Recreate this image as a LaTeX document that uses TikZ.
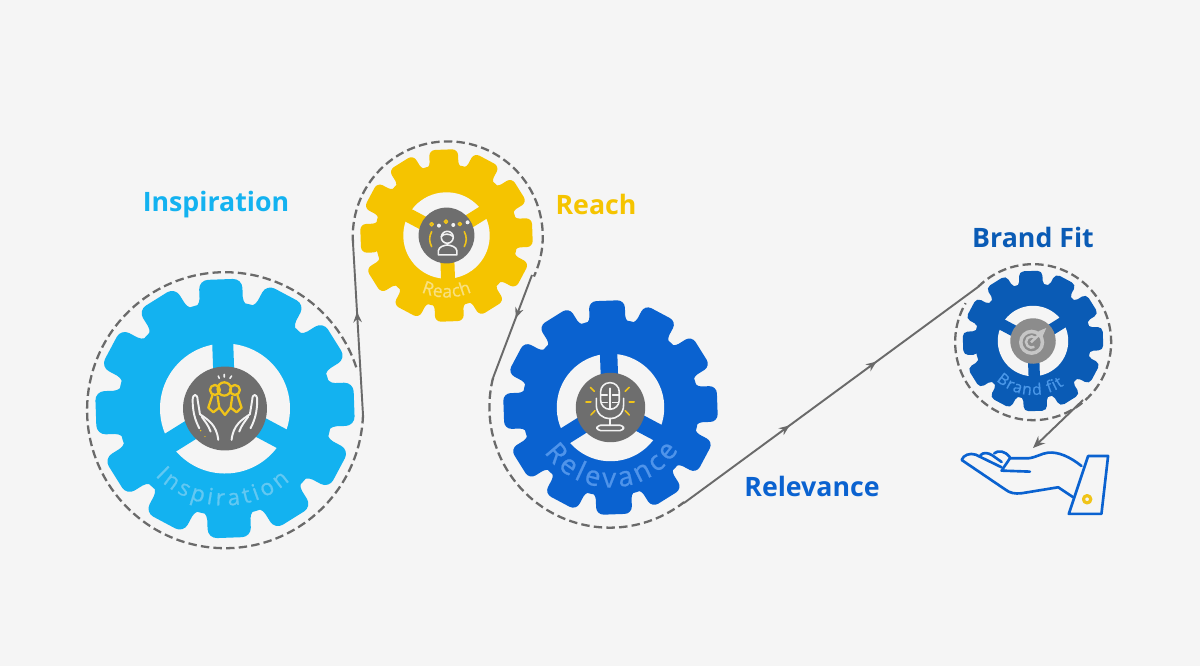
\documentclass[tikz,border=0pt]{standalone}
\usepackage{fontspec}
\setmainfont{Open Sans}
\newfontfamily\gearfont[RawFeature={embolden=0.8}]{Open Sans}
\usetikzlibrary{arrows.meta, decorations.markings, decorations.text}

\definecolor{paper}{HTML}{F5F5F5}
\definecolor{inspblue}{HTML}{13B2F0}
\definecolor{inspsoft}{HTML}{62C8F2}
\definecolor{reachyellow}{HTML}{F5C400}
\definecolor{reachsoft}{HTML}{F9E07F}
\definecolor{relblue}{HTML}{0A62D0}
\definecolor{relsoft}{HTML}{4F94EA}
\definecolor{brandblue}{HTML}{0A5BB5}
\definecolor{brandsoft}{HTML}{4A97E8}
\definecolor{hubgray}{HTML}{6E6E6E}
\definecolor{linegray}{HTML}{6A6A6A}
\definecolor{iconyellow}{HTML}{F0C419}

\tikzset{
  pics/gear/.style n args={3}{code={
    \fill[#1, rounded corners=#2] (-12:104) \foreach \a in {0,30,...,330} {
        -- (\a-12:104) -- (\a-9.5:131) -- (\a+9.5:131) -- (\a+12:104)
      } -- cycle;
    \fill[#1] (0,0) circle (107);
    \fill[paper] (0,0) circle (65);
    \foreach \a in {90,210,330}
      \fill[#1, rotate=\a] (0,-10.5) rectangle (68,10.5);
    \fill[#3] (0,0) circle (42);
  }},
  ring/.style={linegray, line width=0.65pt, dash pattern=on 2.4pt off 1.2pt},
  flow/.style={linegray, line width=0.55pt},
  heading/.style={font=\fontsize{7.6}{9}\selectfont\bfseries},
  iconline/.style={white!90!gray, line width=0.45pt, line cap=round, line join=round},
  iconmark/.style={iconyellow, line width=0.45pt, line cap=round, line join=round},
  handline/.style={relblue, line width=0.75pt, line cap=round, line join=round},
}

\begin{document}
\begin{tikzpicture}[x=0.01cm, y=-0.01cm]
  \fill[paper] (0,0) rectangle (1200,666);

  % Gears
  \pic[rotate=2] at (225,408.5) {gear={inspblue}{2.6pt}{hubgray}};
  \pic[scale=0.665, rotate=182] at (446.5,235.5) {gear={reachyellow}{1.7pt}{hubgray}};
  \pic[scale=0.827, rotate=2] at (610.5,407.5) {gear={relblue}{2.1pt}{hubgray}};
  \pic[scale=0.542, rotate=182] at (1033,341) {gear={brandblue}{1.4pt}{gray!90}};

  % Names bent along the gears
  \path[postaction={decorate}, decoration={text along path, text align={fit to path},
      text={|\gearfont\fontsize{6.4}{8}\selectfont\color{inspsoft}|Inspiration}}]
    (225,408.5) ++(136:97) arc[start angle=136, end angle=48, radius=97];
  \path[postaction={decorate}, decoration={text along path, text align={fit to path},
      text={|\gearfont\fontsize{5}{6}\selectfont\color{reachsoft}|Reach}}]
    (446.5,235.5) ++(114:62) arc[start angle=114, end angle=66, radius=62];
  \path[postaction={decorate}, decoration={text along path, text align={fit to path},
      text={|\gearfont\fontsize{7.8}{9}\selectfont\color{relsoft}|Relevance}}]
    (610.5,407.5) ++(146:80) arc[start angle=146, end angle=32, radius=80];
  \path[postaction={decorate}, decoration={text along path, text align={fit to path},
      text={|\gearfont\fontsize{4.5}{6}\selectfont\color{brandsoft}|Brand fit}}]
    (1033,341) ++(133:54) arc[start angle=133, end angle=55, radius=54];

  % Joints of the running line
  \coordinate (inspout) at (363,415);
  \coordinate (reachin) at (353,243);
  \coordinate (reachout) at (532,275);
  \coordinate (relin) at (493,378);
  \coordinate (relout) at (684,503);
  \coordinate (brandin) at (978,287);
  \coordinate (dropstart) at (1083,400);
  \coordinate (dropend) at (1033,448);

  % Dashed rings
  \draw[ring] (inspout) arc[start angle=2, end angle=342, radius=138];
  \draw[ring] (reachin) arc[start angle=176, end angle=385, radius=95];
  \draw[ring] (relin) arc[start angle=194, end angle=52, radius=120.5];
  \draw[ring] (brandin) arc[start angle=225, end angle=570, radius=78];

  % Straight runs
  \draw[flow, postaction={decorate}, decoration={markings,
      mark=at position 0.6 with {\arrow{Stealth[length=3pt, width=2.4pt]}}}] (inspout) -- (reachin);
  \draw[flow, postaction={decorate}, decoration={markings,
      mark=at position 0.42 with {\arrow{Stealth[length=3pt, width=2.4pt]}}}] (reachout) -- (relin);
  \draw[flow, postaction={decorate}, decoration={markings,
      mark=at position 0.36 with {\arrow{Stealth[length=3pt, width=2.4pt]}},
      mark=at position 0.656 with {\arrow{Stealth[length=3pt, width=2.4pt]}}}] (relout) -- (brandin);
  \draw[flow, -{Stealth[length=3.4pt, width=2.8pt]}] (dropstart) -- (dropend);

  % Headings
  \node[heading, text=inspblue] (insphead) at (216,205) {Inspiration};
  \node[heading, text=reachyellow] (reachhead) at (596,204) {Reach};
  \node[heading, text=relblue] (relhead) at (812,486) {Relevance};
  \node[heading, text=brandblue] (brandhead) at (1033,237) {Brand Fit};

  % Hub icon: hands and people
  \begin{scope}[shift={(180,365)}, x=0.00333cm, y=-0.00333cm]
    \foreach \sx in {1,-1} {
      \begin{scope}[shift={(135,0)}, xscale=\sx]
        \draw[iconline, line width=0.55pt] (-77,190) .. controls (-90,165) and (-97,140) .. (-97,105)
          .. controls (-97,85) and (-82,85) .. (-82,105) -- (-75,148)
          .. controls (-50,165) and (-25,180) .. (-20,225);
        \draw[iconline, line width=0.55pt] (-70,155) .. controls (-60,170) and (-50,180) .. (-43,200);
      \end{scope}
    }
    \draw[iconmark, line width=0.65pt] (133,72) circle (20) (105,75) circle (15) (165,75) circle (15);
    \draw[iconmark, line width=0.65pt] (97,92) -- (85,128) -- (100,142) -- (118,128) -- (135,150)
      -- (152,128) -- (170,142) -- (185,128) -- (173,92);
    \draw[iconmark, line width=0.65pt] (113,95) -- (118,128) (157,95) -- (152,128);
    \draw[iconline] (115,33) -- (118,40) (133,28) -- (133,36) (155,33) -- (150,40);
    \fill[iconyellow] (62,197) circle (2.5) (75,215) circle (2);
  \end{scope}

  % Hub icon: person under stars
  \begin{scope}[shift={(415,205)}, x=0.00333cm, y=-0.00333cm]
    \foreach \px/\py in {50/58, 93/50, 135/57}
      \draw[iconmark] (\px,\py) circle (5);
    \foreach \px/\py in {72/62, 115/60, 158/52}
      \fill[white!90!gray] (\px,\py) circle (6);
    \draw[iconmark] (50,80) .. controls (42,95) and (42,110) .. (50,125);
    \draw[iconmark] (148,80) .. controls (156,95) and (156,110) .. (148,125);
    \draw[iconline] (97,97) circle (18);
    \draw[iconline] (79,95) .. controls (85,85) and (105,85) .. (115,95);
    \draw[iconline] (70,150) -- (70,138) .. controls (72,125) and (85,122) .. (97,120)
      .. controls (110,122) and (124,125) .. (126,138) -- (126,150) -- cycle;
  \end{scope}

  % Hub icon: microphone
  \begin{scope}[shift={(572,370)}, x=0.00333cm, y=-0.00333cm]
    \draw[iconline, rounded corners=2.6pt] (86,38) rectangle (142,118);
    \draw[iconline] (114,55) -- (114,118) (88,75) -- (106,75) (88,97) -- (106,97)
      (122,75) -- (140,75) (122,97) -- (140,97);
    \draw[iconline] (73,85) -- (73,105) .. controls (73,160) and (155,160) .. (155,105) -- (155,85);
    \draw[iconline] (114,145) -- (114,166);
    \draw[iconline, rounded corners=1pt] (75,166) rectangle (155,182);
    \draw[iconmark] (55,52) -- (67,64) (172,52) -- (160,64) (42,96) -- (57,96)
      (172,96) -- (187,96) (57,135) -- (69,122) (172,135) -- (160,122);
  \end{scope}

  % Hub icon: target
  \begin{scope}[shift={(1005,314)}, x=0.00333cm, y=-0.00333cm]
    \fill[gray!45] (80,85) circle (38);
    \fill[gray!90] (80,85) circle (27);
    \draw[gray!45, line width=0.7pt] (92,72) arc[start angle=-45, end angle=-300, radius=17];
    \draw[gray!45, line width=0.7pt] (78,85) -- (118,48);
    \fill[gray!45] (100,52) -- (124,42) -- (112,70) -- cycle;
  \end{scope}

  % Open hand
  \begin{scope}[shift={(955,440)}, x=0.00333cm, y=-0.00333cm]
    \draw[handline] (380,78) .. controls (345,50) and (310,35) .. (280,38)
      .. controls (260,40) and (245,52) .. (220,55) -- (165,55) -- (140,92) -- (225,95);
    \draw[handline] (140,82) -- (62,44) .. controls (45,38) and (25,45) .. (20,60)
      -- (150,148) .. controls (165,160) and (180,162) .. (200,160)
      -- (310,142) -- (355,172);
    \draw[handline] (76,46) .. controls (85,36) and (100,38) .. (112,46) -- (140,66);
    \draw[handline] (118,40) .. controls (130,30) and (150,32) .. (165,52);
    \draw[handline] (400,48) -- (460,48) -- (440,222) -- (342,222) -- cycle;
    \draw[iconmark, line width=0.9pt] (397,178) circle (11);
  \end{scope}
\end{tikzpicture}
\end{document}
